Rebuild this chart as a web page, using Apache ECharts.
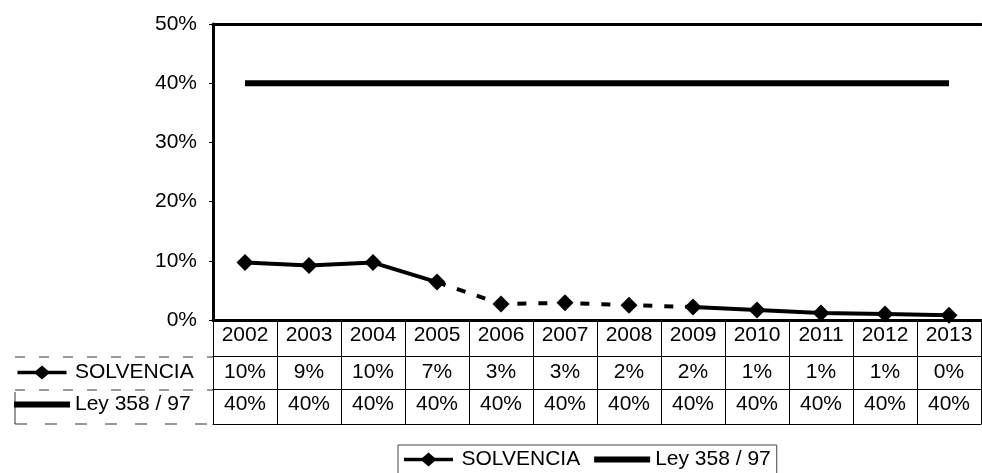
<!DOCTYPE html>
<html>
<head>
<meta charset="utf-8">
<script src="https://cdn.jsdelivr.net/npm/echarts@6/dist/echarts.min.js"></script>
<style>
html,body{margin:0;padding:0;background:#fff;}
#chart{width:982px;height:473px;}
</style>
</head>
<body>
<div id="chart"></div>
<script>
// ---- data ----
const years = ['2002','2003','2004','2005','2006','2007','2008','2009','2010','2011','2012','2013'];
const solvencia = [9.7, 9.2, 9.7, 6.4, 2.7, 2.9, 2.5, 2.2, 1.7, 1.2, 1.0, 0.8];
const ley = [40, 40, 40, 40, 40, 40, 40, 40, 40, 40, 40, 40];
const solvenciaTable = ['10%','9%','10%','7%','3%','3%','2%','2%','1%','1%','1%','0%'];
const leyTable = ['40%','40%','40%','40%','40%','40%','40%','40%','40%','40%','40%','40%'];
const seriesNames = ['SOLVENCIA', 'Ley 358 / 97'];
// segment of the SOLVENCIA line that appears dashed in the original (2005 -> 2009)
const dashedFrom = 3, dashedTo = 7;

const FONT = "'Liberation Sans', Arial, sans-serif";
const FS = 21;
const chart = echarts.init(document.getElementById('chart'), null, {renderer: 'canvas'});

const solidPart = solvencia.map((v, i) => (i <= dashedFrom || i >= dashedTo) ? v : null);
const dashedPart = solvencia.map((v, i) => (i >= dashedFrom && i <= dashedTo) ? v : null);

const iconSolv = 'path://M0,5 L21,5 L28,-1 L35,5 L56,5 L56,9 L35,9 L28,15 L21,9 L0,9 Z';
const iconLey = 'path://M0,4 L56,4 L56,10 L0,10 Z';
const legendData = [{name: seriesNames[0], icon: iconSolv}, {name: seriesNames[1], icon: iconLey}];

function tableAxis(labels, offset, margin, lineW) {
  return {
    type: 'category', data: years, position: 'bottom', offset: offset, boundaryGap: true,
    axisLine: {show: true, onZero: false, lineStyle: {color: '#000', width: lineW}},
    axisTick: {show: false},
    axisLabel: {show: !!labels, interval: 0, margin: margin, color: '#000', fontFamily: FONT, fontSize: FS,
      formatter: (v, i) => labels ? labels[i] : ''},
    splitLine: {show: false}
  };
}

const option = {
  backgroundColor: '#fff',
  animation: false,
  grid: {left: 213, right: 1, top: 24, bottom: 153, containLabel: false},
  xAxis: [
    {
      type: 'category', data: years, position: 'bottom', boundaryGap: true,
      axisLine: {show: true, onZero: false, lineStyle: {color: '#000', width: 3}},
      axisTick: {show: true, interval: 0, length: 104, lineStyle: {color: '#000', width: 1}},
      axisLabel: {interval: 0, margin: 5, color: '#000', fontFamily: FONT, fontSize: FS},
      splitLine: {show: false}
    },
    tableAxis(solvenciaTable, 36, 6, 1),
    tableAxis(leyTable, 69, 5, 1),
    tableAxis(null, 104, 0, 1),
    {
      type: 'category', data: years, position: 'top', boundaryGap: true,
      axisLine: {show: true, onZero: false, lineStyle: {color: '#000', width: 3}},
      axisTick: {show: false}, axisLabel: {show: false}, splitLine: {show: false}
    }
  ],
  yAxis: {
    type: 'value', min: 0, max: 50, interval: 10,
    axisLine: {show: true, lineStyle: {color: '#000', width: 3}},
    axisTick: {show: true, length: 4, lineStyle: {color: '#000', width: 1}},
    axisLabel: {margin: 16, color: '#000', fontFamily: FONT, fontSize: FS, formatter: '{value}%'},
    splitLine: {show: false}
  },
  legend: [
    {
      data: legendData, left: 398, top: 445, itemWidth: 56, itemHeight: 14, itemGap: 14,
      padding: [4, 6, 4, 6], borderColor: '#444', borderWidth: 1,
      itemStyle: {color: '#000'},
      textStyle: {color: '#000', fontFamily: FONT, fontSize: FS}
    },
    {
      data: legendData, orient: 'vertical', left: 14, top: 362, itemWidth: 56, itemHeight: 14, itemGap: 11,
      padding: 0,
      itemStyle: {color: '#000'},
      textStyle: {color: '#000', fontFamily: FONT, fontSize: FS, lineHeight: 21}
    }
  ],
  graphic: [
    {type: 'line', shape: {x1: 15, y1: 357, x2: 213, y2: 357}, style: {stroke: '#333', lineWidth: 1, lineDash: [10, 14]}},
    {type: 'line', shape: {x1: 15, y1: 390, x2: 213, y2: 390}, style: {stroke: '#333', lineWidth: 1, lineDash: [10, 14]}},
    {type: 'line', shape: {x1: 15, y1: 424, x2: 213, y2: 424}, style: {stroke: '#333', lineWidth: 1, lineDash: [12, 18]}},
    {type: 'line', shape: {x1: 15, y1: 392, x2: 15, y2: 424}, style: {stroke: '#333', lineWidth: 1}}
  ],
  series: [
    {
      name: seriesNames[1], type: 'line', data: ley, xAxisIndex: 0, yAxisIndex: 0,
      symbol: 'none',
      itemStyle: {color: '#000'}, lineStyle: {color: '#000', width: 6}
    },
    {
      name: seriesNames[0], type: 'line', data: solidPart, xAxisIndex: 0, yAxisIndex: 0,
      symbol: 'none', connectNulls: false,
      itemStyle: {color: '#000'}, lineStyle: {color: '#000', width: 4}
    },
    {
      name: seriesNames[0], type: 'line', data: dashedPart, xAxisIndex: 0, yAxisIndex: 0,
      symbol: 'none', connectNulls: false,
      itemStyle: {color: '#000'}, lineStyle: {color: '#000', width: 4, type: [9, 12]}
    },
    {
      name: seriesNames[0], type: 'line', data: solvencia, xAxisIndex: 0, yAxisIndex: 0,
      symbol: 'diamond', symbolSize: 17, showSymbol: true,
      itemStyle: {color: '#000'}, lineStyle: {width: 0, opacity: 0}
    }
  ]
};
chart.setOption(option);
</script>
</body>
</html>
